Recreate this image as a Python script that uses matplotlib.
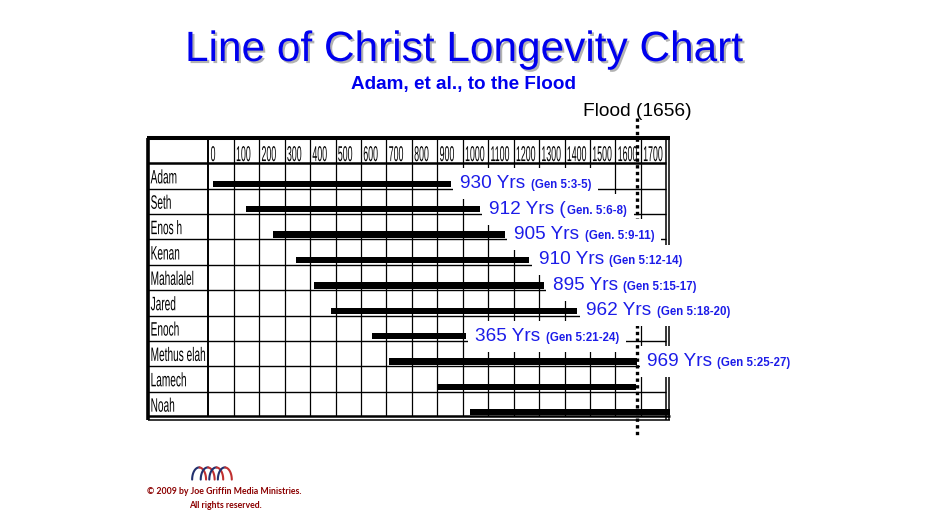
import numpy as np
import matplotlib
matplotlib.use("Agg")
import matplotlib.pyplot as plt
import matplotlib.patheffects as pe
from matplotlib.textpath import TextPath
from matplotlib.patches import PathPatch
from matplotlib.font_manager import FontProperties
from matplotlib.transforms import Affine2D, ScaledTranslation
from matplotlib.offsetbox import TextArea, HPacker, AnnotationBbox

# data
names = ["Adam", "Seth", "Enos h", "Kenan", "Mahalalel", "Jared", "Enoch",
         "Methus elah", "Lamech", "Noah"]
born = [0, 130, 235, 325, 395, 460, 622, 687, 874, 1005]
died = [930, 1042, 1140, 1235, 1290, 1422, 987, 1656, 1651, 2006]
yrs_text = ["930 Yrs", "912 Yrs (", "905 Yrs", "910 Yrs", "895 Yrs", "962 Yrs",
            "365 Yrs", "969 Yrs", None, None]
ref_text = ["(Gen 5:3-5)", "Gen. 5:6-8)", "(Gen. 5:9-11)", "(Gen 5:12-14)",
            "(Gen 5:15-17)", "(Gen 5:18-20)", "(Gen 5:21-24)", "(Gen 5:25-27)",
            None, None]
col_labels = [str(v) for v in range(0, 1800, 100)]
flood_year = 1656

BLUE = "#0000ee"
LBLUE = "#1c1ce8"
ARIAL = "Liberation Sans"

fig = plt.figure(figsize=(9.28, 5.16), dpi=100)
ax = fig.add_axes([148 / 928, 1 - 417 / 516, 522 / 928, 279 / 516])
XL, XR = -252.2, 1782.8
YT, YB = -1.5, 9.5
ax.set_xlim(XL, XR)
ax.set_ylim(YB, YT)
ax.axis("off")

COL0, COLW = -17.2, 99.2   # column grid (years)
BAR_OFF = 0.31


def squeezed(x, y, s, size, sx):
    # condensed text: glyph path squashed horizontally
    tp = TextPath((0, 0), s, size=size, prop=FontProperties(family=ARIAL))
    k = fig.dpi / 72
    tr = Affine2D().scale(sx * k, k) + ScaledTranslation(x, y, ax.transData)
    ax.add_patch(PathPatch(tp, transform=tr, fc="black", ec="none", lw=0,
                           clip_on=False, zorder=2))


# grid
for k in range(1, 18):
    ax.vlines(COL0 + k * COLW, YT, YB, color="k", lw=0.9, zorder=1)
ax.vlines(COL0, YT, YB, color="k", lw=1.4, zorder=1)
ax.vlines(COL0 + 18 * COLW, YT, YB + 0.1, color="k", lw=1.1, zorder=1, clip_on=False)
ax.vlines(XR - 2.5, YT, YB + 0.1, color="k", lw=1.1, zorder=1, clip_on=False)
ax.hlines(np.arange(0.5, 9.0, 1.0), XL, COL0 + 18 * COLW, color="k", lw=1.0, zorder=1)
ax.hlines(-0.5, XL, COL0 + 18 * COLW, color="k", lw=1.8, zorder=1)
ax.hlines(YT, XL - 4, XR, color="k", lw=2.9, zorder=1, clip_on=False)
ax.vlines(XL + 1, YT, YB + 0.1, color="k", lw=2.6, zorder=1, clip_on=False)
ax.hlines(YB - 0.02, XL, XR, color="k", lw=1.8, zorder=1, clip_on=False)
ax.hlines(YB + 0.12, XL, XR, color="k", lw=1.1, zorder=1, clip_on=False)

# header + names
for k, lab in enumerate(col_labels):
    squeezed(COL0 + k * COLW + 9, -0.59, lab, 15.5, 0.41)
for i, nm in enumerate(names):
    squeezed(-242, i + 0.29, nm, 14, 0.52)

# life bars
ys = [i + BAR_OFF for i in range(len(names))]
ax.barh(ys, np.array(died) - np.array(born), left=born, height=0.25,
        color="black", zorder=2)

# flood line
ax.plot([flood_year, flood_year], [YT - 0.79, YB + 0.79], color="black",
        lw=2.4, linestyle=(0, (1, 1)), zorder=2.5, clip_on=False)
fig.text(583 / 928, 1 - 116.5 / 516, "Flood (1656)", fontsize=13.8,
         family=ARIAL, color="black", ha="left", va="baseline")

# lifespan labels
for i in range(len(names)):
    if yrs_text[i] is None:
        continue
    big = TextArea(yrs_text[i], textprops=dict(fontsize=13.7, family=ARIAL, color=LBLUE))
    small = TextArea(ref_text[i], textprops=dict(fontsize=8.3, family=ARIAL,
                                                 fontweight="bold", color=LBLUE))
    gap = 1 if yrs_text[i].endswith("(") else 4
    pack = HPacker(children=[big, small], align="baseline", pad=0, sep=gap)
    ab = AnnotationBbox(pack, (died[i], ys[i]), xybox=(6.5, 0),
                        boxcoords="offset points", box_alignment=(0, 0.5),
                        frameon=True, pad=0.5, fontsize=10,
                        bboxprops=dict(fc="white", ec="none"), zorder=3)
    ab.set_clip_on(False)
    ax.add_artist(ab)

# titles
fig.text(464 / 928, 1 - 61 / 516, "Line of Christ Longevity Chart", fontsize=30.5,
         family=ARIAL, color=BLUE, ha="center", va="baseline",
         path_effects=[pe.withSimplePatchShadow(offset=(1.5, -1.5),
                                                shadow_rgbFace="#808080", alpha=0.6)])
fig.text(463.5 / 928, 1 - 89.5 / 516, "Adam, et al., to the Flood", fontsize=13.6,
         family=ARIAL, fontweight="bold", color=BLUE, ha="center", va="baseline")

# logo
la = fig.add_axes([190 / 928, 1 - 482 / 516, 45 / 928, 17 / 516])
la.axis("off")
t = np.linspace(0, np.pi, 30)
for i in range(4):
    xs = i * 0.8 + (1 - np.cos(t)) / 2 * 1.3
    yv = np.sin(t)
    la.plot(xs[:16], yv[:16], color="#22306e", lw=1.5, solid_capstyle="round")
    la.plot(xs[15:], yv[15:], color="#c03030", lw=1.5, solid_capstyle="round")
la.set_xlim(-0.2, 4.0)
la.set_ylim(-0.2, 1.2)

# copyright
fig.text(224 / 928, 1 - 492 / 516, "\u00a9 2009 by Joe Griffin Media Ministries.",
         fontsize=6.3, family="Lato", fontweight="bold", color="#8b0000",
         ha="center", va="center")
fig.text(225 / 928, 1 - 505 / 516, "All rights reserved.", fontsize=6.3,
         family="Lato", fontweight="bold", color="#8b0000", ha="center", va="center")

fig.savefig("out.png", dpi=100, facecolor="white")
